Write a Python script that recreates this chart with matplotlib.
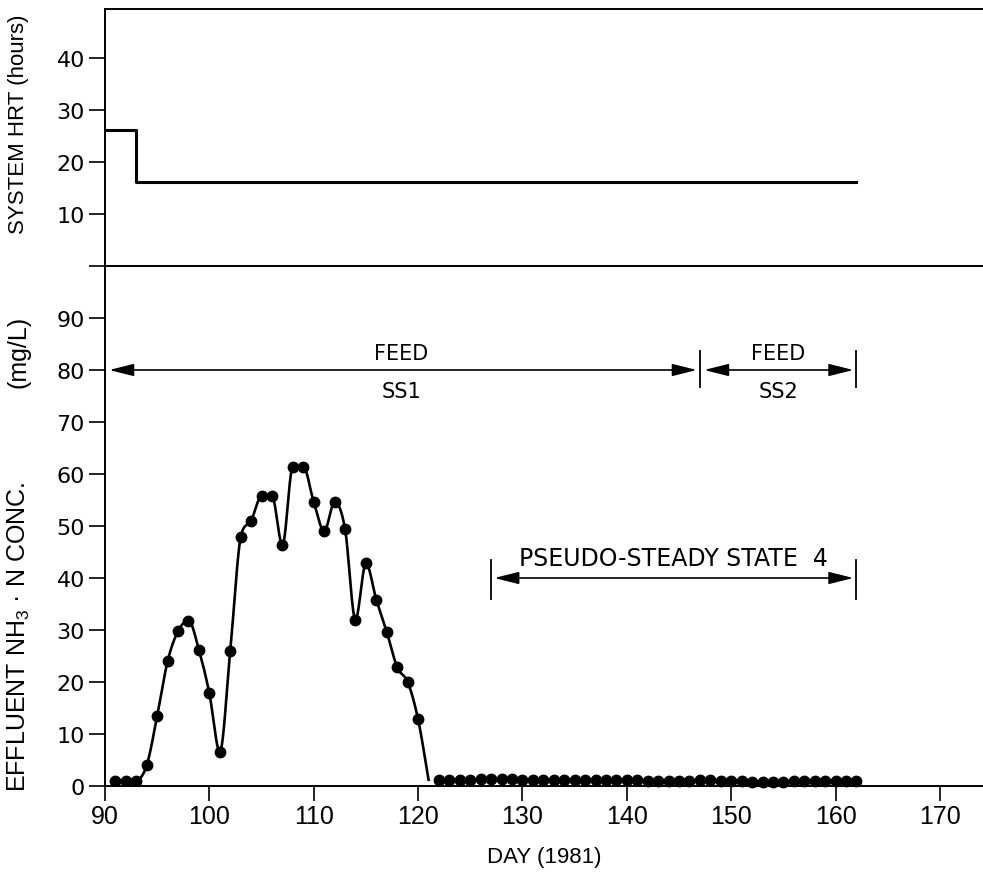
import numpy as np
import matplotlib
matplotlib.use("Agg")
import matplotlib.pyplot as plt

plt.rcParams['mathtext.default'] = 'regular'

# ---------------- data ----------------
hrt_days = [90, 93, 162]
hrt_values = [26.2, 16.1, 16.1]

nh3_days = [91, 92, 93, 94, 95, 96, 97, 98, 99, 100, 101, 102, 103, 104, 105,
            106, 107, 108, 109, 110, 111, 112, 113, 114, 115, 116, 117, 118,
            119, 120]
nh3_values = [1.0, 1.0, 1.0, 4.0, 13.5, 24.0, 29.8, 31.8, 26.2, 17.8, 6.6,
              26.0, 47.8, 51.0, 55.7, 55.7, 46.3, 61.4, 61.4, 54.6, 49.0,
              54.6, 49.4, 32.0, 42.8, 35.8, 29.6, 22.8, 20.0, 12.8]
curve_tail_day = [121]
curve_tail_value = [1.2]

steady_days = list(range(122, 163))
steady_values = [1.2, 1.2, 1.2, 1.2, 1.3, 1.3, 1.3, 1.3, 1.2, 1.2, 1.2, 1.2,
                 1.2, 1.2, 1.2, 1.2, 1.1, 1.1, 1.1, 1.1, 1.0, 1.0, 1.0, 1.0,
                 1.0, 1.1, 1.1, 1.0, 0.9, 0.9, 0.8, 0.8, 0.8, 0.8, 0.9, 1.0,
                 1.0, 1.0, 1.0, 1.0, 1.0]

x_ticks = [90, 100, 110, 120, 130, 140, 150, 160, 170]
top_yticks = [10, 20, 30, 40]
bot_yticks = [0, 10, 20, 30, 40, 50, 60, 70, 80, 90]

feed_ss1 = (90.4, 147)
feed_ss2 = (147, 162)
pss4 = (127, 162)


def smooth_curve(x, y, xs):
    """Hermite spline with averaged, monotonicity-limited tangents."""
    x = np.asarray(x, float)
    y = np.asarray(y, float)
    h = np.diff(x)
    delta = np.diff(y) / h
    n = len(x)
    d = np.zeros(n)
    for k in range(1, n - 1):
        if delta[k - 1] * delta[k] > 0:
            m = 0.5 * (delta[k - 1] + delta[k])
            lim = 3 * min(abs(delta[k - 1]), abs(delta[k]))
            d[k] = np.sign(m) * min(abs(m), lim)
    d[0] = delta[0] * 0.3
    d[-1] = delta[-1]
    idx = np.clip(np.searchsorted(x, xs) - 1, 0, n - 2)
    t = (xs - x[idx]) / h[idx]
    h00 = 2 * t**3 - 3 * t**2 + 1
    h10 = t**3 - 2 * t**2 + t
    h01 = -2 * t**3 + 3 * t**2
    h11 = t**3 - t**2
    return (h00 * y[idx] + h10 * h[idx] * d[idx] + h01 * y[idx + 1]
            + h11 * h[idx] * d[idx + 1])


fig = plt.figure(figsize=(9.83, 8.79), dpi=100)
L = 105 / 983
W = 1 - L
axb = fig.add_axes([L, 92 / 879, W, 520 / 879])
axt = fig.add_axes([L, 612 / 879, W, 257 / 879], sharex=axb)

lw_sp = 1.4
for ax in (axt, axb):
    ax.spines['right'].set_visible(False)
    for s in ('left', 'top', 'bottom'):
        ax.spines[s].set_linewidth(lw_sp)
    ax.tick_params(axis='y', direction='out', length=11.5, width=1.2, pad=3,
                   labelsize=16, labelfontfamily='DejaVu Sans')

axb.set_xlim(90, 90 + 878 / 10.4375)
axb.set_ylim(0, 100)
axt.set_ylim(0, 49.4)

axb.set_xticks(x_ticks)
axb.set_xticklabels([str(v) for v in x_ticks])
axb.tick_params(axis='x', direction='out', length=10.8, width=1.2, pad=2,
                labelsize=18, labelfontfamily='Liberation Sans')
axt.tick_params(axis='x', bottom=False, labelbottom=False)

axt.set_yticks([0] + top_yticks)
axt.set_yticklabels([''] + [str(v) for v in top_yticks])
axb.set_yticks(bot_yticks)

# top panel: HRT
axt.plot(hrt_days, hrt_values, drawstyle='steps-post', color='black', lw=2.2)

# bottom panel: NH3 curve
cx = nh3_days[2:] + curve_tail_day
cy = nh3_values[2:] + curve_tail_value
xs = np.linspace(cx[0], cx[-1], 1500)
axb.plot(xs, smooth_curve(cx, cy, xs), color='black', lw=1.9)
axb.plot(nh3_days, nh3_values, 'o', color='black', ms=7.5)
axb.plot(steady_days, steady_values, 'o', color='black', ms=7.5, clip_on=False)

# annotations
astyle = dict(arrowstyle='<|-|>,head_length=1.0,head_width=0.25',
              color='black', lw=1.2, mutation_scale=15,
              shrinkA=0, shrinkB=0)
tfont = dict(family='DejaVu Sans', fontsize=15, color='black')

axb.annotate('', xy=(feed_ss1[0], 80), xytext=(feed_ss1[1] - 0.3, 80),
             arrowprops=astyle)
axb.annotate('', xy=(feed_ss2[0] + 0.4, 80), xytext=(feed_ss2[1] - 0.3, 80),
             arrowprops=astyle)
for xv in (feed_ss2[0], feed_ss2[1]):
    axb.plot([xv, xv], [76.8, 83.6], color='black', lw=1.3)
axb.text((feed_ss1[0] + feed_ss1[1]) / 2 - 0.3, 83.2, 'FEED', ha='center',
         va='center', **tfont)
axb.text((feed_ss1[0] + feed_ss1[1]) / 2 - 0.3, 76.0, 'SS1', ha='center',
         va='center', **tfont)
axb.text((feed_ss2[0] + feed_ss2[1]) / 2, 83.2, 'FEED', ha='center',
         va='center', **tfont)
axb.text((feed_ss2[0] + feed_ss2[1]) / 2, 76.0, 'SS2', ha='center',
         va='center', **tfont)

axb.annotate('', xy=(pss4[0] + 0.3, 40), xytext=(pss4[1] - 0.3, 40),
             arrowprops=astyle)
for xv in pss4:
    axb.plot([xv, xv], [36.0, 43.4], color='black', lw=1.3)
axb.text((pss4[0] + pss4[1]) / 2, 43.8, 'PSEUDO-STEADY STATE  4',
         ha='center', va='center', family='DejaVu Sans', fontsize=17,
         color='black')

# axis labels
lfont = dict(family='Liberation Sans', fontsize=16, color='black')
fig.text(19 / 983, 1 - 124 / 879, 'SYSTEM HRT (hours)', rotation=90,
         ha='center', va='center', **lfont)
fig.text(19 / 983, 1 - 637 / 879, 'EFFLUENT NH$_3$ · N CONC.',
         rotation=90, ha='center', va='center', family='Liberation Sans',
         fontsize=18, color='black')
fig.text(19 / 983, 1 - 352 / 879, '(mg/L)',
         rotation=90, ha='center', va='center', family='Liberation Sans',
         fontsize=18, color='black')
fig.text((105 + 983) / 2 / 983, 1 - 858 / 879, 'DAY (1981)',
         ha='center', va='center', **lfont)

fig.savefig('out.png', dpi=100)
